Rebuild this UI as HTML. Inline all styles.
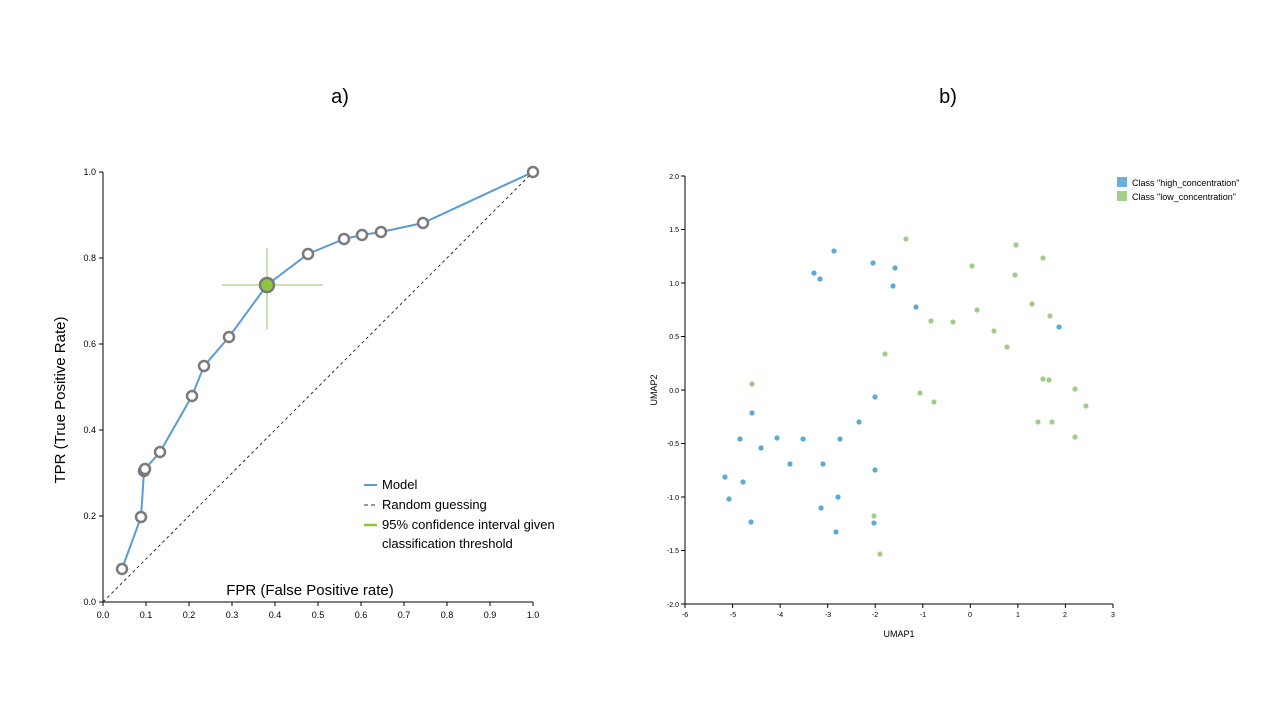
<!DOCTYPE html>
<html><head><meta charset="utf-8"><style>body{margin:0;background:#fff}svg{display:block;font-family:"Liberation Sans",sans-serif}</style></head>
<body><svg width="1280" height="720" viewBox="0 0 1280 720">
<text x="340" y="103" font-size="20" text-anchor="middle">a)</text>
<text x="948" y="103" font-size="20" text-anchor="middle">b)</text>
<!-- left axes -->
<g stroke="#000" stroke-width="1" fill="none">
<path d="M103,172V602H533"/>
<path d="M99,172H103M99,258H103M99,344H103M99,430H103M99,516H103M99,602H103"/>
<path d="M103,602v4M146,602v4M189,602v4M232,602v4M275,602v4M318,602v4M361,602v4M404,602v4M447,602v4M490,602v4M533,602v4"/>
</g>
<g font-size="9" fill="#000">
<g text-anchor="end"><text x="96" y="175">1.0</text><text x="96" y="261">0.8</text><text x="96" y="347">0.6</text><text x="96" y="433">0.4</text><text x="96" y="519">0.2</text><text x="96" y="605">0.0</text></g>
<g text-anchor="middle"><text x="103" y="618">0.0</text><text x="146" y="618">0.1</text><text x="189" y="618">0.2</text><text x="232" y="618">0.3</text><text x="275" y="618">0.4</text><text x="318" y="618">0.5</text><text x="361" y="618">0.6</text><text x="404" y="618">0.7</text><text x="447" y="618">0.8</text><text x="490" y="618">0.9</text><text x="533" y="618">1.0</text></g>
</g>
<text x="310" y="595" font-size="15" text-anchor="middle">FPR (False Positive rate)</text>
<text transform="translate(65,400) rotate(-90)" font-size="15" text-anchor="middle">TPR (True Positive Rate)</text>
<path d="M103,602L533,172" stroke="#333" stroke-width="1" stroke-dasharray="3,3"/>
<path d="M222,285H323M267,248V329" stroke="#a8d08d" stroke-width="1.3"/>
<polyline fill="none" stroke="#5b9bd5" stroke-width="2" points="122,569 141,517 144,471 145,469 160,452 192,396 204,366 229,337 267,285 308,254 344,239 362,235 381,232 423,223 533,172"/>
<g fill="#fff" stroke="#7a7a7a" stroke-width="2.5">
<circle cx="122" cy="569" r="5"/><circle cx="141" cy="517" r="5"/><circle cx="144" cy="471" r="5"/><circle cx="145" cy="469" r="5"/><circle cx="160" cy="452" r="5"/><circle cx="192" cy="396" r="5"/><circle cx="204" cy="366" r="5"/><circle cx="229" cy="337" r="5"/><circle cx="308" cy="254" r="5"/><circle cx="344" cy="239" r="5"/><circle cx="362" cy="235" r="5"/><circle cx="381" cy="232" r="5"/><circle cx="423" cy="223" r="5"/><circle cx="533" cy="172" r="5"/>
<circle cx="267" cy="285" r="7" fill="#8dc63f"/>
</g>
<g font-size="13">
<path d="M364,485H377" stroke="#5b9bd5" stroke-width="2"/><text x="382" y="489">Model</text>
<path d="M364,505H377" stroke="#333" stroke-dasharray="4,3"/><text x="382" y="509">Random guessing</text>
<path d="M364,525H377" stroke="#8dc63f" stroke-width="2.5"/><text x="382" y="529">95% confidence interval given</text>
<text x="382" y="548">classification threshold</text>
</g>
<!-- right axes -->
<g stroke="#000" stroke-width="1" fill="none">
<path d="M685,176V604H1113"/>
<path d="M681,176H685M681,229.5H685M681,283H685M681,336.5H685M681,390H685M681,443.5H685M681,497H685M681,550.5H685M681,604H685"/>
<path d="M685,604v4M732.6,604v4M780.1,604v4M827.7,604v4M875.2,604v4M922.8,604v4M970.3,604v4M1017.9,604v4M1065.4,604v4M1113,604v4"/>
</g>
<g font-size="7" fill="#000">
<g text-anchor="end"><text x="679" y="179">2.0</text><text x="679" y="232">1.5</text><text x="679" y="286">1.0</text><text x="679" y="339">0.5</text><text x="679" y="393">0.0</text><text x="679" y="446">-0.5</text><text x="679" y="500">-1.0</text><text x="679" y="553">-1.5</text><text x="679" y="607">-2.0</text></g>
<g text-anchor="middle"><text x="685" y="617">-6</text><text x="733" y="617">-5</text><text x="780" y="617">-4</text><text x="828" y="617">-3</text><text x="875" y="617">-2</text><text x="923" y="617">-1</text><text x="970" y="617">0</text><text x="1018" y="617">1</text><text x="1065" y="617">2</text><text x="1113" y="617">3</text></g>
</g>
<text x="899" y="637" font-size="9" text-anchor="middle">UMAP1</text>
<text transform="translate(657,390) rotate(-90)" font-size="9" text-anchor="middle">UMAP2</text>
<rect x="1117" y="177" width="10" height="10" fill="#6baed6"/><text x="1132" y="186" font-size="9">Class "high_concentration"</text>
<rect x="1117" y="191" width="10" height="10" fill="#a1d08b"/><text x="1132" y="200" font-size="9">Class "low_concentration"</text>
<g fill="#5aaad6">
<circle cx="834" cy="251" r="2.6"/><circle cx="814" cy="273" r="2.6"/><circle cx="820" cy="279" r="2.6"/><circle cx="873" cy="263" r="2.6"/><circle cx="895" cy="268" r="2.6"/><circle cx="893" cy="286" r="2.6"/><circle cx="916" cy="307" r="2.6"/><circle cx="1059" cy="327" r="2.6"/><circle cx="752" cy="413" r="2.6"/><circle cx="740" cy="439" r="2.6"/><circle cx="777" cy="438" r="2.6"/><circle cx="761" cy="448" r="2.6"/><circle cx="859" cy="422" r="2.6"/><circle cx="875" cy="397" r="2.6"/><circle cx="803" cy="439" r="2.6"/><circle cx="790" cy="464" r="2.6"/><circle cx="875" cy="470" r="2.6"/><circle cx="725" cy="477" r="2.6"/><circle cx="743" cy="482" r="2.6"/><circle cx="729" cy="499" r="2.6"/><circle cx="751" cy="522" r="2.6"/><circle cx="838" cy="497" r="2.6"/><circle cx="821" cy="508" r="2.6"/><circle cx="836" cy="532" r="2.6"/><circle cx="874" cy="523" r="2.6"/><circle cx="823" cy="464" r="2.6"/><circle cx="840" cy="439" r="2.6"/>
</g>
<g fill="#9fcd85">
<circle cx="906" cy="239" r="2.6"/><circle cx="1016" cy="245" r="2.6"/><circle cx="1043" cy="258" r="2.6"/><circle cx="972" cy="266" r="2.6"/><circle cx="1015" cy="275" r="2.6"/><circle cx="1032" cy="304" r="2.6"/><circle cx="977" cy="310" r="2.6"/><circle cx="931" cy="321" r="2.6"/><circle cx="953" cy="322" r="2.6"/><circle cx="994" cy="331" r="2.6"/><circle cx="1050" cy="316" r="2.6"/><circle cx="1007" cy="347" r="2.6"/><circle cx="885" cy="354" r="2.6"/><circle cx="752" cy="384" r="2.6"/><circle cx="1043" cy="379" r="2.6"/><circle cx="1049" cy="380" r="2.6"/><circle cx="1075" cy="389" r="2.6"/><circle cx="1086" cy="406" r="2.6"/><circle cx="920" cy="393" r="2.6"/><circle cx="934" cy="402" r="2.6"/><circle cx="1038" cy="422" r="2.6"/><circle cx="1052" cy="422" r="2.6"/><circle cx="1075" cy="437" r="2.6"/><circle cx="874" cy="516" r="2.6"/><circle cx="880" cy="554" r="2.6"/>
</g>
</svg></body></html>
